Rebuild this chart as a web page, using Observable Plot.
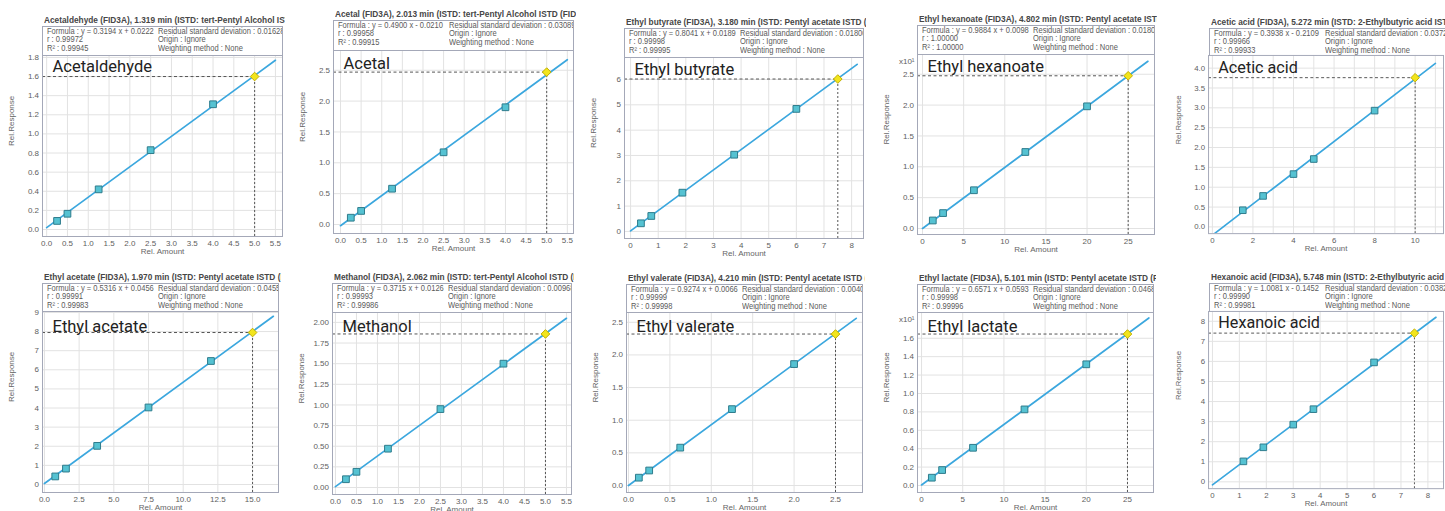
<!DOCTYPE html>
<html><head><meta charset="utf-8">
<script src="https://cdn.jsdelivr.net/npm/d3@7"></script>
<script src="https://cdn.jsdelivr.net/npm/@observablehq/plot@0.6"></script>
<style>
html,body{margin:0;padding:0;background:#fff}
body{width:1445px;height:511px;overflow:hidden;position:relative;font-family:"Liberation Sans",Arial,sans-serif}
.ptitle{position:absolute;height:11px;line-height:11px;white-space:nowrap;overflow:hidden;font-weight:bold;font-size:8.6px;color:#464646}
.ptitle span{display:inline-block;transform:scaleX(0.965);transform-origin:0 0}
.info{position:absolute;box-sizing:border-box;border:1px solid #a4a8b8;border-bottom:none;overflow:hidden;background:#fff}
.info .col{position:absolute;top:0.5px;font-size:8.2px;line-height:8.5px;color:#5a5a5a;white-space:nowrap;transform:scaleX(0.92);transform-origin:0 0}
.plotwrap{position:absolute}
.plotwrap svg{overflow:visible;display:block}
</style>
</head><body>
<script>
// ---------- data ----------
const compounds = ["Acetaldehyde","Acetal","Ethyl butyrate","Ethyl hexanoate","Acetic acid","Ethyl acetate","Methanol","Ethyl valerate","Ethyl lactate","Hexanoic acid"];
const retentionTimes = ["1.319","2.013","3.180","4.802","5.272","1.970","2.062","4.210","5.101","5.748"];
const istds = ["tert-Pentyl Alcohol ISTD","tert-Pentyl Alcohol ISTD","Pentyl acetate ISTD","Pentyl acetate ISTD","2-Ethylbutyric acid ISTD","Pentyl acetate ISTD","tert-Pentyl Alcohol ISTD","Pentyl acetate ISTD","Pentyl acetate ISTD","2-Ethylbutyric acid ISTD"];
const formulas = ["y = 0.3194 x + 0.0222","y = 0.4900 x - 0.0210","y = 0.8041 x + 0.0189","y = 0.9884 x + 0.0098","y = 0.3938 x - 0.2109","y = 0.5316 x + 0.0456","y = 0.3715 x + 0.0126","y = 0.9274 x + 0.0066","y = 0.6571 x + 0.0593","y = 1.0081 x - 0.1452"];
const rValues = ["0.99972","0.99958","0.99998","1.00000","0.99966","0.99991","0.99993","0.99999","0.99998","0.99990"];
const r2Values = ["0.99945","0.99915","0.99995","1.00000","0.99933","0.99983","0.99986","0.99998","0.99996","0.99981"];
const rsdValues = ["0.01628","0.03089","0.01800","0.01806","0.03724","0.04559","0.00968","0.00403","0.04687","0.03829"];

const amounts = [
  [0.25,0.5,1.25,2.5,4.0],
  [0.25,0.5,1.25,2.5,4.0],
  [0.375,0.75,1.875,3.75,6.0],
  [1.25,2.5,6.25,12.5,20],
  [1.5,2.5,4.0,5.0,8.0],
  [0.78,1.55,3.8,7.5,12],
  [0.25,0.5,1.25,2.5,4.0],
  [0.125,0.25,0.625,1.25,2.0],
  [1.25,2.5,6.25,12.5,20],
  [1.15,1.89,3.0,3.75,6.0]
];
const responses = [
  [0.09,0.165,0.42,0.83,1.31],
  [0.11,0.22,0.58,1.17,1.90],
  [0.32,0.61,1.53,3.03,4.84],
  [1.3,2.5,6.2,12.4,19.8],
  [0.42,0.78,1.33,1.71,2.93],
  [0.42,0.83,2.02,4.03,6.46],
  [0.10,0.19,0.47,0.95,1.50],
  [0.12,0.23,0.58,1.17,1.86],
  [0.85,1.68,4.1,8.27,13.17],
  [1.02,1.72,2.85,3.62,5.95]
];
const targetAmounts = [5.0,5.0,7.5,25,10,15,5.0,2.5,25,7.5];
const targetResponses = [1.60,2.47,6.02,24.75,3.76,7.95,1.86,2.32,16.46,7.41];
const fitLineX = [[0,5.5],[0,5.5],[0,8.2],[0,27.4],[0,11],[0,16.5],[0,5.5],[0,2.75],[0,27.6],[0,8.3]];
const fitLineY = [[0.02,1.77],[-0.02,2.67],[0.02,6.6],[0.01,27.1],[-0.21,4.12],[0.05,8.8],[0.01,2.05],[0.0,2.56],[0.06,18.2],[-0.15,8.2]];

const xTickValues = [
  [0,0.5,1,1.5,2,2.5,3,3.5,4,4.5,5,5.5],
  [0,0.5,1,1.5,2,2.5,3,3.5,4,4.5,5,5.5],
  [0,1,2,3,4,5,6,7,8],
  [0,5,10,15,20,25],
  [0,2,4,6,8,10],
  [0,2.5,5,7.5,10,12.5,15],
  [0,0.5,1,1.5,2,2.5,3,3.5,4,4.5,5,5.5],
  [0,0.5,1,1.5,2,2.5],
  [0,5,10,15,20,25],
  [0,1,2,3,4,5,6,7,8]
];
const xGridValues = [
  xTickValues[0], xTickValues[1], xTickValues[2], xTickValues[3],
  [0,1,2,3,4,5,6,7,8,9,10,11],
  xTickValues[5], xTickValues[6], xTickValues[7], xTickValues[8], xTickValues[9]
];
const yTickValues = [
  [0,0.2,0.4,0.6,0.8,1.0,1.2,1.4,1.6,1.8],
  [0,0.5,1.0,1.5,2.0,2.5],
  [0,1,2,3,4,5,6],
  [0,5,10,15,20,25],
  [0,0.5,1.0,1.5,2.0,2.5,3.0,3.5,4.0],
  [0,1,2,3,4,5,6,7,8,9],
  [0,0.25,0.5,0.75,1.0,1.25,1.5,1.75,2.0],
  [0,0.5,1.0,1.5,2.0,2.5],
  [0,2,4,6,8,10,12,14,16],
  [0,1,2,3,4,5,6,7,8]
];
const xDecimals = [1,1,0,0,0,1,1,1,0,0];
const yDecimals = [1,1,0,1,1,0,2,1,1,0];
const yDivisor = [1,1,1,10,1,1,1,1,10,1];
const yExponentLabel = [null,null,null,"x10\u00B9",null,null,null,null,"x10\u00B9",null];

// ---------- layout (page pixels) ----------
const layout = [
  {fl:42, ft:55, fr:282, fb:236, bt:26, ly:16},
  {fl:333, ft:50, fr:573, fb:233, bt:20, ly:18},
  {fl:624, ft:57, fr:863, fb:238, bt:28, ly:17},
  {fl:917, ft:54, fr:1154, fb:234, bt:25, ly:17},
  {fl:1209, ft:55, fr:1449, fb:237, bt:28, ly:18},
  {fl:42, ft:311, fr:278, fb:492, bt:283, ly:20},
  {fl:332, ft:312, fr:571, fb:494, bt:283, ly:19},
  {fl:626, ft:312, fr:862, fb:492, bt:284, ly:19},
  {fl:917, ft:312, fr:1153, fb:492, bt:284, ly:19},
  {fl:1209, ft:311, fr:1449, fb:492, bt:283, ly:17}
];
const xDomains = [[-0.1,5.67],[-0.17,5.65],[-0.22,8.43],[-0.61,28.2],[-0.19,11.4],[-0.14,16.87],[-0.07,5.62],[-0.024,2.826],[-0.49,28.16],[-0.145,8.58]];
const yDomains = [[-0.073,1.82],[-0.146,2.82],[-0.28,6.87],[-0.97,28.2],[-0.17,4.32],[-0.42,9.05],[-0.085,2.12],[-0.107,2.65],[-0.76,18.8],[-0.34,8.49]];

const M = {l:45, r:2, t:2, b:22};

compounds.forEach((name, i) => {
  const L = layout[i];
  const fw = L.fr - L.fl, fh = L.fb - L.ft;

  // title
  const t = document.createElement("div");
  t.className = "ptitle";
  t.style.left = (L.fl + 2) + "px";
  t.style.top = (L.bt - 11) + "px";
  t.style.width = (fw + 1) + "px";
  const ts = document.createElement("span");
  ts.textContent = `${name} (FID3A), ${retentionTimes[i]} min (ISTD: ${istds[i]} (FID3A))`;
  t.appendChild(ts);
  document.body.appendChild(t);

  // info box
  const box = document.createElement("div");
  box.className = "info";
  box.style.left = L.fl + "px";
  box.style.top = L.bt + "px";
  box.style.width = (fw + 1) + "px";
  box.style.height = (L.ft - L.bt + 1) + "px";
  const c1 = document.createElement("div");
  c1.className = "col"; c1.style.left = "4px";
  c1.innerHTML = `Formula : ${formulas[i]}<br>r : ${rValues[i]}<br>R\u00B2 : ${r2Values[i]}`;
  const c2 = document.createElement("div");
  c2.className = "col"; c2.style.left = "115px";
  c2.innerHTML = `Residual standard deviation : ${rsdValues[i]}<br>Origin : Ignore<br>Weighting method : None`;
  box.appendChild(c1); box.appendChild(c2);
  document.body.appendChild(box);

  // plot
  const pts = amounts[i].map((x, j) => ({x, y: responses[i][j]}));
  const fit = fitLineX[i].map((x, j) => ({x, y: fitLineY[i][j]}));
  const tgt = [{x: targetAmounts[i], y: targetResponses[i]}];
  const xmin = xDomains[i][0], ymin = yDomains[i][0];
  const fx = d => d.toFixed(xDecimals[i]);
  const fy = d => (d / yDivisor[i]).toFixed(yDecimals[i]);
  const marks = [
    Plot.gridX(xGridValues[i], {stroke: "#e2e2e2", strokeOpacity: 1}),
    Plot.gridY(yTickValues[i], {stroke: "#e2e2e2", strokeOpacity: 1}),
    Plot.ruleY(tgt, {y: "y", x1: () => xmin, x2: "x", stroke: "#555", strokeDasharray: "3,2.5"}),
    Plot.ruleX(tgt, {x: "x", y1: () => ymin, y2: "y", stroke: "#555", strokeDasharray: "2,2"}),
    Plot.line(fit, {x: "x", y: "y", stroke: "#3ba7de", strokeWidth: 1.7, clip: true}),
    Plot.dot(pts, {x: "x", y: "y", symbol: "square", r: 3.8, fill: "#55c2d2", stroke: "#2e7c8c", strokeWidth: 1}),
    Plot.dot(tgt, {x: "x", y: "y", symbol: "diamond2", r: 3.9, fill: "#f2e51c", stroke: "#c2b000", strokeWidth: 1}),
    Plot.frame({stroke: "#a4a8b8"}),
    Plot.axisX(xTickValues[i], {tickSize: 0, tickPadding: 4, tickFormat: fx, label: null, fill: "#5e5e5e"}),
    Plot.axisY(yTickValues[i], {tickSize: 0, tickPadding: 3.5, tickFormat: fy, label: null, fill: "#5e5e5e"}),
    Plot.text(["Rel. Amount"], {frameAnchor: "bottom", dy: 15, lineAnchor: "middle", fontSize: 8, fill: "#666"}),
    Plot.text(["Rel.Response"], {frameAnchor: "left", dx: -31, rotate: -90, lineAnchor: "middle", fontSize: 8, fill: "#666"}),
    Plot.text([name], {frameAnchor: "top-left", dx: 10, dy: L.ly, lineAnchor: "bottom", textAnchor: "start", fontSize: 16.5, fontFamily: "Roboto", fill: "#222"})
  ];
  if (yExponentLabel[i]) {
    marks.push(Plot.text([yExponentLabel[i]], {frameAnchor: "top-left", dx: -3, dy: 7, lineAnchor: "middle", textAnchor: "end", fontSize: 8, fill: "#5e5e5e"}));
  }
  const svg = Plot.plot({
    width: fw + M.l + M.r,
    height: fh + M.t + M.b,
    marginLeft: M.l, marginRight: M.r, marginTop: M.t, marginBottom: M.b,
    x: {domain: xDomains[i]},
    y: {domain: yDomains[i]},
    style: {fontFamily: "'Liberation Sans', Arial, sans-serif", fontSize: "8px", color: "#5e5e5e", background: "transparent", overflow: "visible"},
    marks
  });
  const wrap = document.createElement("div");
  wrap.className = "plotwrap";
  wrap.style.left = (L.fl - M.l) + "px";
  wrap.style.top = (L.ft - M.t) + "px";
  wrap.appendChild(svg);
  document.body.appendChild(wrap);
});
</script>
</body></html>
